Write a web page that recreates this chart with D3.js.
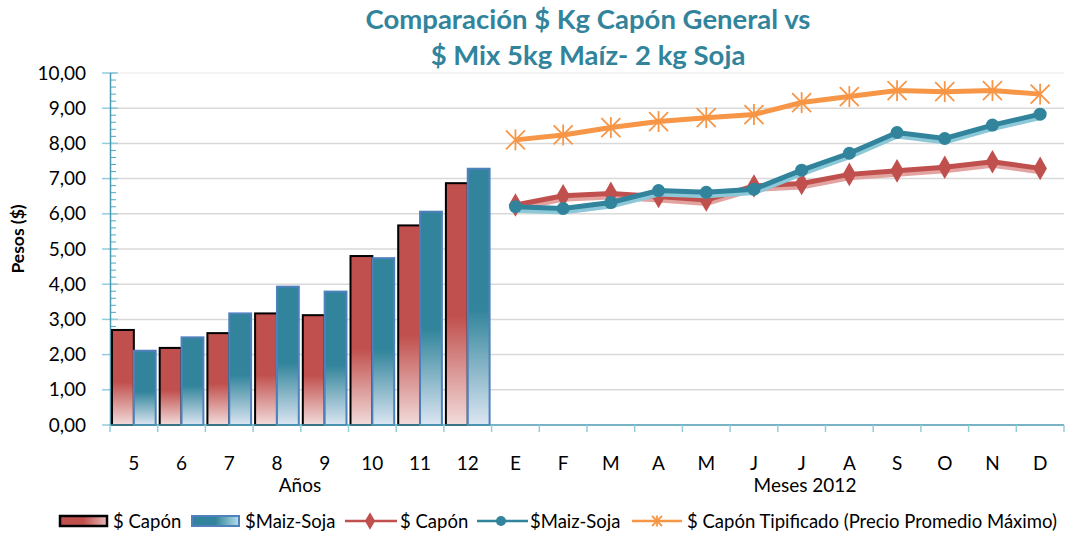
<!DOCTYPE html>
<html>
<head>
<meta charset="utf-8">
<script src="https://cdn.jsdelivr.net/npm/d3@7"></script>
<style>
  body { margin: 0; background: #fff; }
  text { font-family: Lato, "Open Sans", sans-serif; fill: #000; }
</style>
</head>
<body>
<svg id="chart" width="1065" height="533"></svg>
<script>
// categorías: años (barras) y meses 2012 (líneas)
const years = ["5", "6", "7", "8", "9", "10", "11", "12"];
const months = ["E", "F", "M", "A", "M", "J", "J", "A", "S", "O", "N", "D"];

// barras por año
const barCapon = [2.70, 2.19, 2.61, 3.17, 3.12, 4.80, 5.67, 6.87];
const barMaiz  = [2.11, 2.49, 3.17, 3.93, 3.79, 4.74, 6.06, 7.28];

// líneas por mes
const lineCapon = [6.25, 6.51, 6.58, 6.49, 6.39, 6.79, 6.86, 7.12, 7.22, 7.32, 7.48, 7.29];
const lineMaiz  = [6.20, 6.15, 6.32, 6.66, 6.61, 6.70, 7.24, 7.72, 8.31, 8.14, 8.52, 8.83];
const lineTipif = [8.10, 8.24, 8.45, 8.62, 8.73, 8.82, 9.16, 9.33, 9.50, 9.47, 9.50, 9.40];

const yTicks = [0, 1, 2, 3, 4, 5, 6, 7, 8, 9, 10];
const labels = years.concat(months);

const svg = d3.select('#chart');
const teal = '#31849B', red = '#C0504D', orange = '#F79646';

const x = d3.scaleBand().domain(d3.range(labels.length)).range([110, 1064]).padding(0);
const y = d3.scaleLinear().domain([0, 10]).range([425, 73]);
const inner = d3.scaleBand().domain([0, 1]).range([2, x.bandwidth() - 2]).padding(0);

// gradientes
const defs = svg.append('defs');
function grad(id, c1, c2, horiz) {
  const g = defs.append('linearGradient').attr('id', id)
    .attr('x1', 0).attr('y1', 0).attr('x2', horiz ? 1 : 0).attr('y2', horiz ? 0 : 1);
  g.append('stop').attr('offset', '0').attr('stop-color', c1);
  g.append('stop').attr('offset', horiz ? '0.5' : '0.55').attr('stop-color', c1);
  g.append('stop').attr('offset', '1').attr('stop-color', c2);
}
grad('gRed', red, '#F2DCDB');
grad('gBlue', teal, '#DCE6F2');
grad('gRedH', red, '#E6B9B8', true);
grad('gBlueH', teal, '#B7DEE8', true);

// rejilla
svg.append('g').selectAll('line').data(yTicks.filter(d => d > 0)).enter().append('line')
  .attr('x1', 110).attr('x2', 1064)
  .attr('y1', d => y(d)).attr('y2', d => y(d))
  .attr('stroke', d => d === 10 ? '#f0f0f0' : '#d9d9d9').attr('stroke-width', 1.5);

// eje y: ticks menores y mayores
svg.append('g').selectAll('line').data(d3.range(0, 10.001, 0.2)).enter().append('line')
  .attr('x1', 110).attr('x2', 116)
  .attr('y1', d => y(d)).attr('y2', d => y(d))
  .attr('stroke', '#4BACC6').attr('stroke-width', 1);
svg.append('g').selectAll('line').data(yTicks).enter().append('line')
  .attr('x1', 102).attr('x2', 118)
  .attr('y1', d => y(d)).attr('y2', d => y(d))
  .attr('stroke', '#92CDDC').attr('stroke-width', 1.5);
svg.append('line').attr('x1', 110.5).attr('x2', 110.5).attr('y1', y(10)).attr('y2', y(0) + 1)
  .attr('stroke', '#4A9AB0').attr('stroke-width', 1.5);
svg.append('g').selectAll('text').data(yTicks).enter().append('text')
  .attr('x', 86).attr('y', d => y(d) + 6.5)
  .attr('text-anchor', 'end').attr('font-size', 19)
  .text(d => d3.format('.2f')(d).replace('.', ','));

svg.append('text').attr('transform', 'translate(24,239) rotate(-90)')
  .attr('text-anchor', 'middle').attr('font-size', 17.5).attr('font-weight', 'bold')
  .text('Pesos ($)');

// barras
const groups = svg.append('g').selectAll('g').data(years).enter().append('g')
  .attr('transform', (d, i) => `translate(${x(i)},0)`);
groups.append('rect')
  .attr('x', inner(0)).attr('width', inner.bandwidth())
  .attr('y', (d, i) => y(barCapon[i])).attr('height', (d, i) => y(0) - y(barCapon[i]))
  .attr('fill', 'url(#gRed)').attr('stroke', '#000').attr('stroke-width', 2);
groups.append('rect')
  .attr('x', inner(1)).attr('width', inner.bandwidth())
  .attr('y', (d, i) => y(barMaiz[i])).attr('height', (d, i) => y(0) - y(barMaiz[i]))
  .attr('fill', 'url(#gBlue)').attr('stroke', '#4F81BD').attr('stroke-width', 2);

// eje x
svg.append('line').attr('x1', 110).attr('x2', 1064).attr('y1', y(0)).attr('y2', y(0))
  .attr('stroke', '#4A9AB0').attr('stroke-width', 1.5);
svg.append('g').selectAll('line').data(d3.range(labels.length + 1)).enter().append('line')
  .attr('x1', i => 110 + i * x.step()).attr('x2', i => 110 + i * x.step())
  .attr('y1', y(0)).attr('y2', y(0) + 7)
  .attr('stroke', '#92CDDC').attr('stroke-width', 1.5);
svg.append('g').selectAll('text').data(labels).enter().append('text')
  .attr('x', (d, i) => x(i) + x.bandwidth() / 2).attr('y', 470)
  .attr('text-anchor', 'middle').attr('font-size', 19)
  .text(d => d);
svg.append('text').attr('x', 300).attr('y', 492).attr('text-anchor', 'middle')
  .attr('font-size', 19).text('Años');
svg.append('text').attr('x', 805).attr('y', 492).attr('text-anchor', 'middle')
  .attr('font-size', 19).text('Meses 2012');

// líneas
const mx = i => x(years.length + i) + x.bandwidth() / 2;
const line = d3.line().x((d, i) => mx(i)).y(d => y(d));

function star(g, cx, cy, r, col) {
  const s = g.append('g').attr('transform', `translate(${cx},${cy})`)
    .attr('stroke', col).attr('stroke-width', 1.8);
  s.append('line').attr('x1', -r).attr('y1', -r).attr('x2', r).attr('y2', r);
  s.append('line').attr('x1', -r).attr('y1', r).attr('x2', r).attr('y2', -r);
  s.append('line').attr('x1', 0).attr('y1', -r * 1.1).attr('x2', 0).attr('y2', r * 1.1);
}
const diamond = d3.symbol().type(d3.symbolDiamond).size(160);

const lr = svg.append('g');
lr.append('path').datum(lineCapon).attr('d', line).attr('transform', 'translate(0,3)')
  .attr('fill', 'none').attr('stroke', '#E3A3A1').attr('stroke-width', 6);
lr.append('path').datum(lineCapon).attr('d', line)
  .attr('fill', 'none').attr('stroke', red).attr('stroke-width', 5);
lr.selectAll('path.m').data(lineCapon).enter().append('path').attr('class', 'm')
  .attr('d', diamond).attr('transform', (d, i) => `translate(${mx(i)},${y(d)})`)
  .attr('fill', red);

const lt = svg.append('g');
lt.append('path').datum(lineMaiz).attr('d', line).attr('transform', 'translate(0,3)')
  .attr('fill', 'none').attr('stroke', '#8CC8D8').attr('stroke-width', 6);
lt.append('path').datum(lineMaiz).attr('d', line)
  .attr('fill', 'none').attr('stroke', teal).attr('stroke-width', 5);
lt.selectAll('circle').data(lineMaiz).enter().append('circle')
  .attr('cx', (d, i) => mx(i)).attr('cy', d => y(d)).attr('r', 6.5)
  .attr('fill', teal);

const lo = svg.append('g');
lo.append('path').datum(lineTipif).attr('d', line)
  .attr('fill', 'none').attr('stroke', orange).attr('stroke-width', 5);
lineTipif.forEach((d, i) => star(lo, mx(i), y(d), 9.5, orange));

// título
svg.append('text').attr('x', 588).attr('y', 29).attr('text-anchor', 'middle')
  .attr('font-size', 27.5).attr('font-weight', 'bold').style('fill', teal)
  .text('Comparación $ Kg Capón General vs');
svg.append('text').attr('x', 588).attr('y', 65).attr('text-anchor', 'middle')
  .attr('font-size', 27.5).attr('font-weight', 'bold').style('fill', teal)
  .text('$ Mix 5kg Maíz- 2 kg Soja');

// leyenda
const lg = svg.append('g');
const ly = 521;
const lfs = 18.5;
lg.append('rect').attr('x', 60).attr('y', ly - 5).attr('width', 47).attr('height', 10)
  .attr('fill', 'url(#gRedH)').attr('stroke', '#000').attr('stroke-width', 2.5);
lg.append('text').attr('x', 113).attr('y', ly + 6.5).attr('font-size', lfs).text('$ Capón');
lg.append('rect').attr('x', 192).attr('y', ly - 5).attr('width', 47).attr('height', 10)
  .attr('fill', 'url(#gBlueH)').attr('stroke', '#4F81BD').attr('stroke-width', 2);
lg.append('text').attr('x', 245).attr('y', ly + 6.5).attr('font-size', lfs).text('$Maiz-Soja');
lg.append('line').attr('x1', 345).attr('x2', 397).attr('y1', ly).attr('y2', ly)
  .attr('stroke', red).attr('stroke-width', 2.5);
lg.append('path').attr('d', d3.symbol().type(d3.symbolDiamond).size(90))
  .attr('transform', `translate(370,${ly})`).attr('fill', red);
lg.append('text').attr('x', 400).attr('y', ly + 6.5).attr('font-size', lfs).text('$ Capón');
lg.append('line').attr('x1', 477).attr('x2', 528).attr('y1', ly).attr('y2', ly)
  .attr('stroke', teal).attr('stroke-width', 2.5);
lg.append('circle').attr('cx', 501).attr('cy', ly).attr('r', 5).attr('fill', teal);
lg.append('text').attr('x', 530).attr('y', ly + 6.5).attr('font-size', lfs).text('$Maiz-Soja');
lg.append('line').attr('x1', 632).attr('x2', 682).attr('y1', ly).attr('y2', ly)
  .attr('stroke', orange).attr('stroke-width', 2.5);
star(lg, 657, ly, 5, orange);
lg.append('text').attr('x', 687).attr('y', ly + 6.5).attr('font-size', lfs)
  .text('$ Capón Tipificado (Precio Promedio Máximo)');
</script>
</body>
</html>
